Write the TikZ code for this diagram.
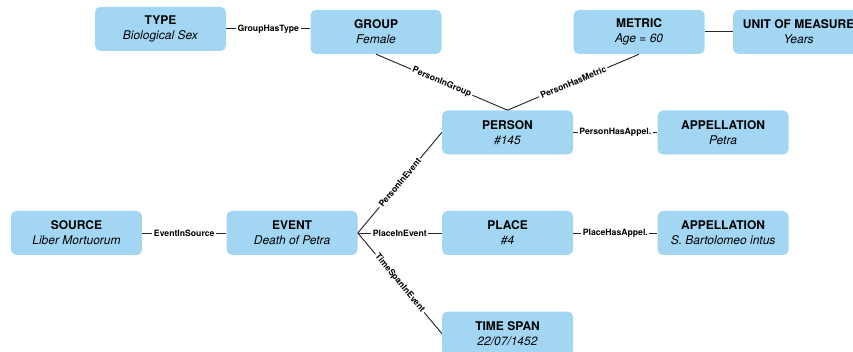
\documentclass[tikz,border=0pt]{standalone}
\usepackage{fontspec}
\setmainfont{TeX Gyre Heros}
\usetikzlibrary{positioning}

\definecolor{entityblue}{RGB}{162,214,243}

\begin{document}
\begin{tikzpicture}[
    node distance=41.25pt and 63pt,
    entity/.style={
        rectangle,
        fill=entityblue,
        rounded corners=4pt,
        minimum width=98.25pt,
        minimum height=33pt,
        inner sep=0pt,
        align=center,
        font=\fontsize{9}{11.25}\selectfont
    },
    link/.style={
        line width=0.7pt,
        draw=black!85
    },
    rel/.style={
        fill=white,
        inner sep=1.2pt,
        font=\fontsize{6.5}{7}\selectfont\bfseries
    }
]

    \useasboundingbox (0,0) rectangle (639.75pt,-264pt);

    % --- Middle row ---
    \node[entity] (source) at (57.375pt,-174.75pt) {\textbf{SOURCE}\\\textit{Liber Mortuorum}};
    \node[entity, right=of source] (event) {\textbf{EVENT}\\\textit{Death of Petra}};
    \node[entity, right=of event] (place) {\textbf{PLACE}\\\textit{\#4}};
    \node[entity, right=of place] (placeapp) {\textbf{APPELLATION}\\\textit{S. Bartolomeo intus}};

    % --- Person row ---
    \node[entity, above=42pt of place] (person) {\textbf{PERSON}\\\textit{\#145}};
    \node[entity, right=of person] (personapp) {\textbf{APPELLATION}\\\textit{Petra}};

    % --- Time span ---
    \node[entity, below=42pt of place] (timespan) {\textbf{TIME SPAN}\\\textit{22/07/1452}};

    % --- Top row ---
    \node[entity, above left=42pt and 0pt of person] (group) {\textbf{GROUP}\\\textit{Female}};
    \node[entity, left=of group, yshift=2.25pt] (type) {\textbf{TYPE}\\\textit{Biological Sex}};
    \node[entity, above right=42pt and 0pt of person] (metric) {\textbf{METRIC}\\\textit{Age = 60}};
    \node[entity, right=21pt of metric] (unit) {\textbf{UNIT OF MEASURE}\\\textit{Years}};

    % Relations
    \draw[link] (type.east |- group.west) ++(0,2.25pt) coordinate (typeout) -- (typeout -| group.west)
        node[rel, midway] {GroupHasType};
    \draw[link] (group.south) -- (person.north)
        node[rel, midway, sloped] {PersonInGroup};
    \draw[link] (metric.south) -- (person.north)
        node[rel, midway, sloped] {PersonHasMetric};
    \draw[link] (metric) -- (unit);
    \draw[link] (person) -- (personapp)
        node[rel, midway] {PersonHasAppel.};
    \draw[link] (source) -- (event)
        node[rel, midway] {EventInSource};
    \draw[link] (event.east) -- (person.west)
        node[rel, midway, sloped] {PersonInEvent};
    \draw[link] (event.east) -- (place.west)
        node[rel, midway] {PlaceInEvent};
    \draw[link] (event.east) -- (timespan.west)
        node[rel, midway, sloped] {TimeSpanInEvent};
    \draw[link] (place) -- (placeapp)
        node[rel, midway] {PlaceHasAppel.};

\end{tikzpicture}
\end{document}
